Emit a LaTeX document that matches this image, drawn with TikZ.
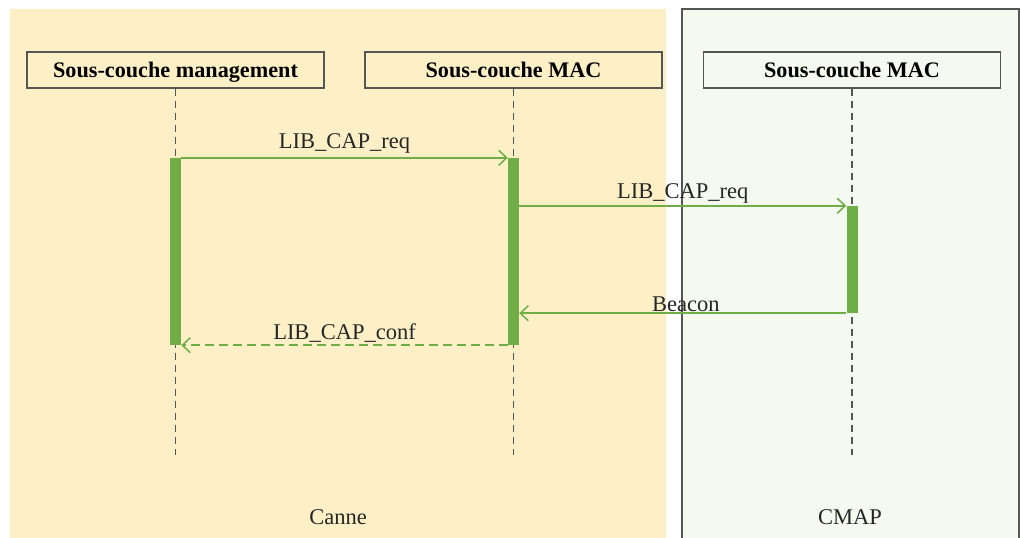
\documentclass[tikz,border=0pt]{standalone}
\usepackage{fontspec}
\setmainfont{Liberation Serif}
\usetikzlibrary{arrows.meta}
\definecolor{cannebg}{HTML}{FEF0C6}
\definecolor{cmapbg}{HTML}{F5FAF0}
\definecolor{grn}{HTML}{70AD47}
\definecolor{lifegray}{HTML}{555555}
\tikzset{
  every node/.style={font=\fontsize{22.5}{26}\selectfont},
  layerbox/.style={draw=lifegray, line width=1.2pt, fill=none, minimum width=297pt, minimum height=36pt, inner sep=0pt, text height=16.5pt, text depth=2.5pt, font=\fontsize{22.2}{26}\selectfont\bfseries},
  lifeline/.style={draw=lifegray, line width=1.3pt, dash pattern=on 7pt off 5pt},
  actbar/.style={fill=grn, draw=none, minimum width=11pt, inner sep=0pt},
  msg/.style={draw=grn, line width=1.8pt, -{Straight Barb[length=8pt,width=15pt,line width=1.5pt]}},
  msgret/.style={msg, dash pattern=on 9pt off 5pt},
  msglabel/.style={above, inner sep=3pt, text=black!85},
  paneltitle/.style={text=black!85}
}
\begin{document}
\begin{tikzpicture}[x=1pt,y=-1pt]
\useasboundingbox (0,0) rectangle (1020,538);
\fill[white] (0,0) rectangle (1020,538);
% panels
\fill[cannebg] (10,9) rectangle (666,540);
\draw[fill=cmapbg, draw=lifegray, line width=1.2pt] (682,9) rectangle (1019,545);
% layer boxes
\node[layerbox] (mgmt) at (175.5,70) {Sous-couche management};
\node[layerbox] (mac1) at (513.5,70) {Sous-couche MAC};
\node[layerbox] (mac2) at (852,70) {Sous-couche MAC};
% lifeline ends
\coordinate (e1) at (175.5,455);
\coordinate (e2) at (513.5,455);
\coordinate (e3) at (852,455);
\draw[lifeline] (mgmt.south) -- (e1);
\draw[lifeline] (mac1.south) -- (e2);
\draw[lifeline] (mac2.south) -- (e3);
% activation bars
\node[actbar, minimum height=187pt] (a1) at (175.5,251.5) {};
\node[actbar, minimum height=187pt] (a2) at (513.5,251.5) {};
\node[actbar, minimum height=107pt] (a3) at (852,259.5) {};
% messages
\draw[msg] (a1.north east) -- node[msglabel, yshift=1pt] {LIB\_CAP\_req} (a2.north west);
\draw[msg] (a2.east |- a3.north) -- node[msglabel, yshift=-1pt] {LIB\_CAP\_req} (a3.north west);
\draw[msg] (a3.south west) -- node[msglabel, yshift=-2pt, xshift=3pt] {Beacon} (a2.east |- a3.south);
\draw[msgret] (a2.south west) -- node[msglabel, yshift=-1pt] {LIB\_CAP\_conf} (a1.south east);
% panel titles
\node[paneltitle] (canne) at (338,517) {Canne};
\node[paneltitle] (cmap) at (850,517) {CMAP};
\end{tikzpicture}
\end{document}
